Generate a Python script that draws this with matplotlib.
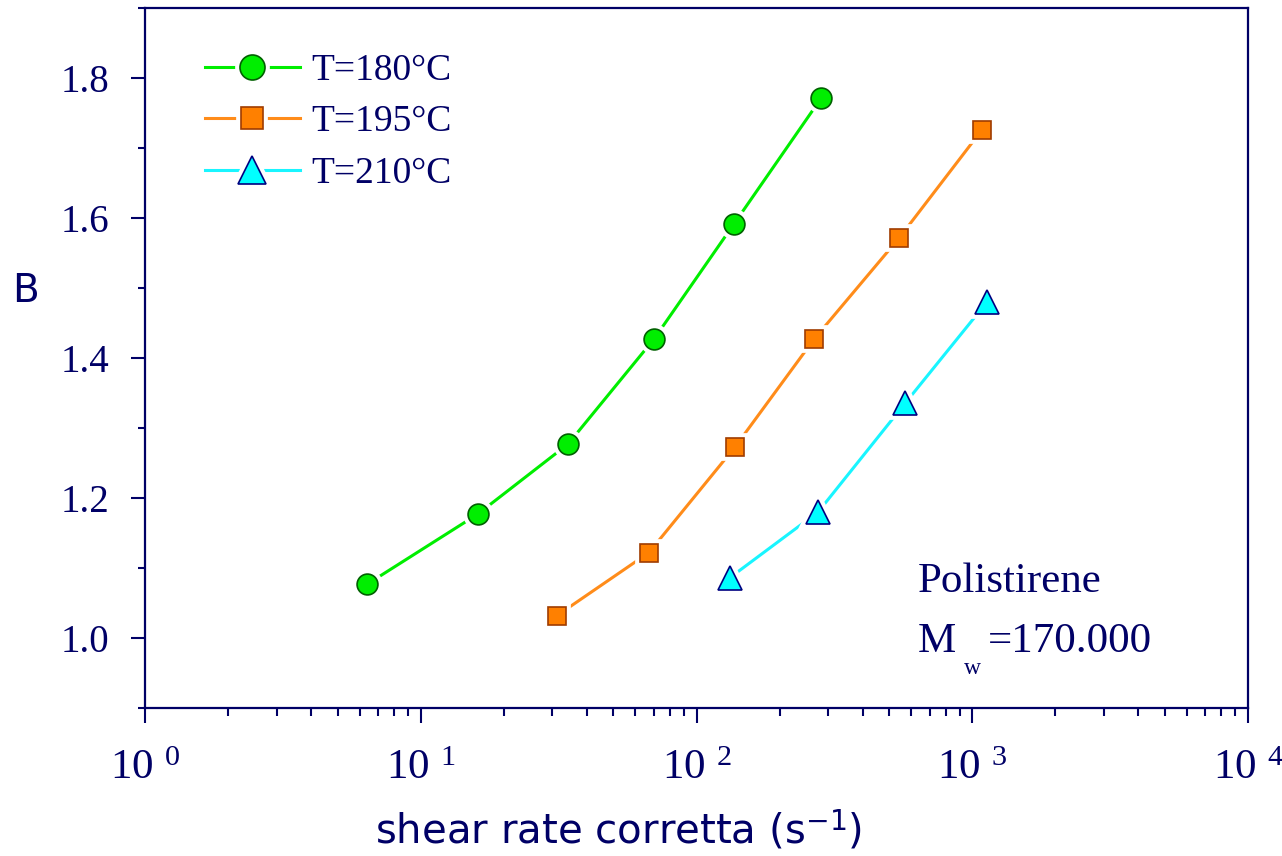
import matplotlib.pyplot as plt
import numpy as np
from matplotlib.ticker import FixedLocator, LogLocator, FuncFormatter, NullFormatter
from matplotlib.legend_handler import HandlerTuple

plt.rcParams['mathtext.fontset'] = 'custom'
plt.rcParams['mathtext.rm'] = 'Liberation Serif'
plt.rcParams['mathtext.it'] = 'Liberation Serif:italic'
plt.rcParams['mathtext.bf'] = 'Liberation Serif:bold'

navy = '#000066'

# shear rate (1/s) and B for each temperature
rate_180 = [6.4, 16.1, 34.2, 70.1, 137, 283]
b_180 = [1.077, 1.177, 1.277, 1.427, 1.592, 1.771]
rate_195 = [31.2, 67.2, 138, 267, 542, 1085]
b_195 = [1.032, 1.122, 1.273, 1.427, 1.571, 1.726]
rate_210 = [132, 276, 570, 1131]
b_210 = [1.086, 1.180, 1.335, 1.480]

series = [
    ('T=180°C', rate_180, b_180, 'o', 15, '#00ee00', '#00ee00', '#006000'),
    ('T=195°C', rate_195, b_195, 's', 13.5, '#ff8000', '#ff8c1a', '#a03c00'),
    ('T=210°C', rate_210, b_210, '^', 17, '#00ffff', '#19f5ff', '#000080'),
]

fig = plt.figure(figsize=(12.82, 8.56), dpi=100)
ax = fig.add_axes([0.1131, 0.1729, 0.8604, 0.8178])

handles = []
for label, x, y, mk, ms, face, lcol, edge in series:
    ln, = ax.plot(x, y, '-', color=lcol, lw=2.2, zorder=2)
    halo, = ax.plot(x, y, mk, ms=ms, mfc='white', mec='white', mew=7, ls='none', zorder=3)
    pt, = ax.plot(x, y, mk, ms=ms, mfc=face, mec=edge, mew=1.2, ls='none', zorder=4)
    handles.append((ln, halo, pt))

ax.set_xscale('log')
ax.set_xlim(1, 1e4)
ax.set_ylim(0.9, 1.9)

ax.xaxis.set_major_locator(FixedLocator([1, 10, 100, 1000, 10000]))
ax.xaxis.set_minor_locator(LogLocator(base=10, subs=np.arange(2, 10)))
ax.xaxis.set_minor_formatter(NullFormatter())
ax.xaxis.set_major_formatter(FuncFormatter(lambda v, p: r'$\mathrm{10}^{\ \,%d}$' % round(np.log10(v))))

ax.yaxis.set_major_locator(FixedLocator([1.0, 1.2, 1.4, 1.6, 1.8]))
ax.yaxis.set_minor_locator(FixedLocator([0.9, 1.1, 1.3, 1.5, 1.7, 1.9]))
ax.yaxis.set_major_formatter(FuncFormatter(lambda v, p: '%.1f' % v))

for s in ax.spines.values():
    s.set_color(navy)
    s.set_linewidth(1.6)

ax.tick_params(axis='x', which='major', length=11, width=1.5, pad=19, colors=navy, labelsize=31)
ax.tick_params(axis='x', which='minor', length=6, width=1.5, colors=navy)
ax.tick_params(axis='y', which='major', length=10, width=1.5, pad=16, colors=navy, labelsize=28)
ax.tick_params(axis='y', which='minor', length=5, width=1.5, colors=navy)
for t in ax.get_xticklabels() + ax.get_yticklabels():
    t.set_fontfamily('Liberation Serif')

ax.set_xlabel('shear rate corretta (s$^{\\mathsf{-1}}$)', fontsize=29, color=navy,
              family='DejaVu Sans', va='center', ha='center')
ax.xaxis.set_label_coords(0.429, -0.175)
ax.set_ylabel('B', fontsize=28, color=navy, family='DejaVu Sans', rotation=0,
              va='center', ha='center')
ax.yaxis.set_label_coords(-0.108, 0.595)

leg = ax.legend(handles, [s[0] for s in series], handler_map={tuple: HandlerTuple(ndivide=1)},
                loc='upper left', bbox_to_anchor=(0.054, 0.935), frameon=False,
                borderpad=0, borderaxespad=0,
                handlelength=2.55, handletextpad=0.3, labelspacing=0.45,
                prop={'family': 'Liberation Serif', 'size': 27}, markerscale=1.2)
for t in leg.get_texts():
    t.set_color(navy)

ax.text(0.7008, 0.1657, 'Polistirene', transform=ax.transAxes, fontsize=31,
        family='Liberation Serif', color=navy, va='baseline')
mw_kw = dict(xycoords='axes fraction', textcoords='offset points',
             family='Liberation Serif', color=navy, va='baseline')
ax.annotate('M', xy=(0.7008, 0.08), xytext=(0, 0), fontsize=31, **mw_kw)
ax.annotate('w', xy=(0.7008, 0.08), xytext=(33, -16), fontsize=17, **mw_kw)
ax.annotate('=170.000', xy=(0.7008, 0.08), xytext=(50, 0), fontsize=31, **mw_kw)

fig.savefig('out.png', dpi=100)
